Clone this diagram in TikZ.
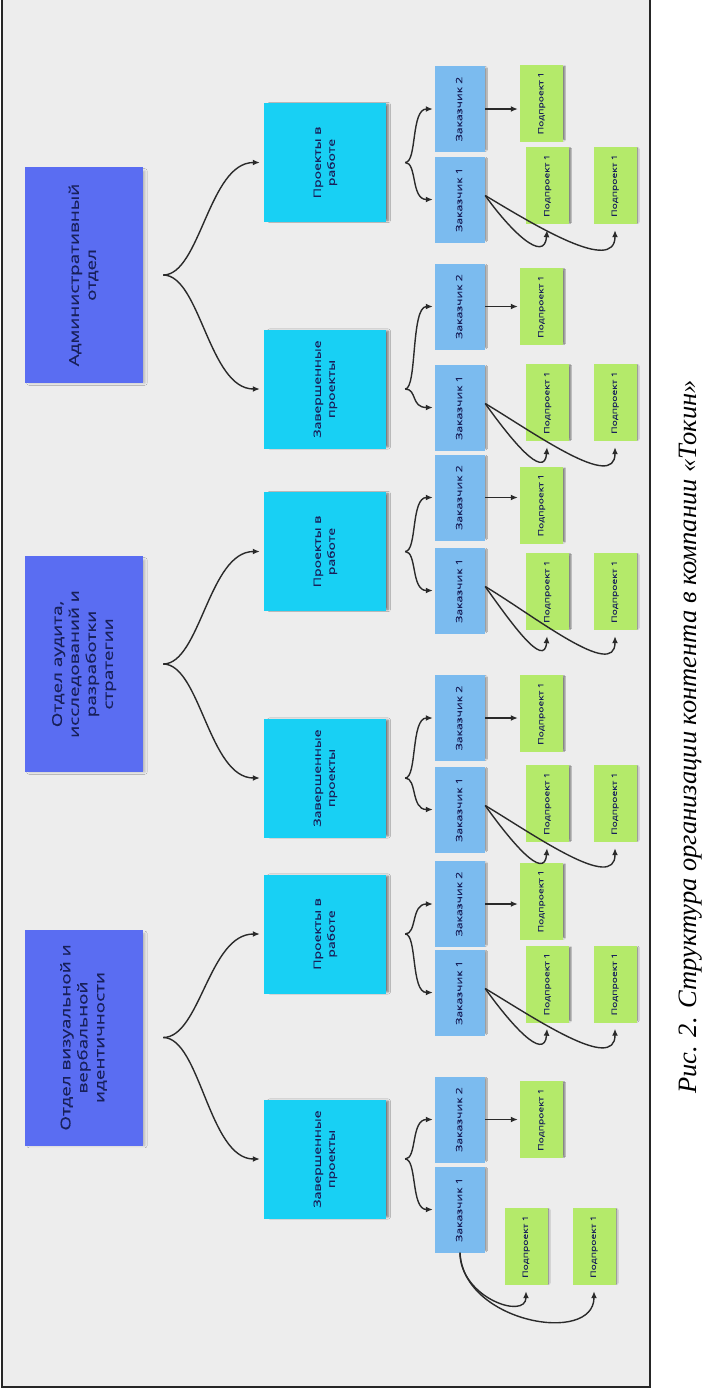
\documentclass[tikz,border=0pt]{standalone}
\usepackage{fontspec}
\usepackage{graphicx}
\usetikzlibrary{arrows.meta,shadows.blur}
\newfontfamily\boxfont[FakeStretch=1.4,FakeBold=0.35]{Open Sans}
\newfontfamily\capfont{Liberation Serif}
\definecolor{bgc}{HTML}{EDEDED}
\definecolor{deptc}{HTML}{5A6DF2}
\definecolor{projc}{HTML}{18D0F4}
\definecolor{custc}{HTML}{7BBBEF}
\definecolor{subc}{HTML}{B4EA6A}
\definecolor{txtc}{HTML}{18205A}
\definecolor{linec}{HTML}{2A2A2A}
\newcommand{\rt}[1]{\rotatebox{90}{\begin{tabular}{@{}c@{}}#1\end{tabular}}}
\tikzset{
  x=1pt, y=-1pt,
  boxbase/.style={draw=none, inner sep=0pt, text=txtc},
  dept/.style={boxbase, fill=deptc, minimum width=118pt, minimum height=216pt,
    font=\boxfont\fontsize{13.5}{17}\selectfont,
    blur shadow={shadow xshift=3pt, shadow yshift=-2pt, shadow blur radius=2.5pt, shadow scale=0.98, shadow opacity=25}},
  proj/.style={boxbase, fill=projc, minimum width=122pt, minimum height=119pt,
    font=\boxfont\fontsize{10}{14}\selectfont,
    blur shadow={shadow xshift=4pt, shadow yshift=0pt, shadow blur radius=2.5pt, shadow scale=0.97, shadow opacity=55}},
  cust/.style={boxbase, fill=custc, minimum width=50pt, minimum height=86pt,
    font=\boxfont\fontsize{8.7}{11}\selectfont,
    blur shadow={shadow xshift=2.5pt, shadow yshift=0pt, shadow blur radius=1.5pt, shadow scale=0.95, shadow opacity=45}},
  sub/.style={boxbase, fill=subc, minimum width=43pt, minimum height=77pt,
    font=\boxfont\fontsize{7.3}{9}\selectfont,
    blur shadow={shadow xshift=2.5pt, shadow yshift=0pt, shadow blur radius=1.5pt, shadow scale=0.95, shadow opacity=55}},
  conn/.style={draw=linec, line width=1.4pt, -{Latex[length=7pt,width=6pt]}},
  brace1/.style={conn, shorten >=4pt},
  brace2/.style={conn, shorten >=2pt},
  straight/.style={conn, shorten >=2pt},
  hook/.style={conn, shorten >=6pt},
}
\begin{document}
\begin{tikzpicture}
\useasboundingbox (0,0) rectangle (709,1390);
\fill[white] (0,0) rectangle (709,1390);
\fill[bgc] (2,0) rectangle (650,1387);
\draw[line width=1.5pt, black!85] (2,0) -- (2,1387) -- (650,1387) -- (650,0);

% departments
\node[dept] (d1) at (84,275) {\rt{Административный\\отдел}};
\node[dept] (d2) at (84,664) {\rt{Отдел аудита,\\исследований и\\разработки\\стратегии}};
\node[dept] (d3) at (84,1037.5) {\rt{Отдел визуальной и\\вербальной\\идентичности}};

% project boxes
\node[proj] (p1) at (325,162.5) {\rt{Проекты в\\работе}};
\node[proj] (p2) at (325,389) {\rt{Завершенные\\проекты}};
\node[proj] (p3) at (325,551.5) {\rt{Проекты в\\работе}};
\node[proj] (p4) at (325,778) {\rt{Завершенные\\проекты}};
\node[proj] (p5) at (325,934) {\rt{Проекты в\\работе}};
\node[proj] (p6) at (325,1159) {\rt{Завершенные\\проекты}};

% customers
\node[cust] (z1b) at (460,109) {\rt{Заказчик 2}};
\node[cust] (z1a) at (460,199.5) {\rt{Заказчик 1}};
\node[cust] (z2b) at (460,306.5) {\rt{Заказчик 2}};
\node[cust] (z2a) at (460,407.5) {\rt{Заказчик 1}};
\node[cust] (z3b) at (460,497.5) {\rt{Заказчик 2}};
\node[cust] (z3a) at (460,590.5) {\rt{Заказчик 1}};
\node[cust] (z4b) at (460,718) {\rt{Заказчик 2}};
\node[cust] (z4a) at (460,809.5) {\rt{Заказчик 1}};
\node[cust] (z5b) at (460,904) {\rt{Заказчик 2}};
\node[cust] (z5a) at (460,992.5) {\rt{Заказчик 1}};
\node[cust] (z6b) at (460,1119.5) {\rt{Заказчик 2}};
\node[cust] (z6a) at (460,1209.5) {\rt{Заказчик 1}};

% subprojects
\node[sub] (s1t) at (541.5,103) {\rt{Подпроект 1}};
\node[sub] (s1n) at (547.5,185.5) {\rt{Подпроект 1}};
\node[sub] (s1f) at (615,185.5) {\rt{Подпроект 1}};
\node[sub] (s2t) at (541.5,306.5) {\rt{Подпроект 1}};
\node[sub] (s2n) at (547.5,402.5) {\rt{Подпроект 1}};
\node[sub] (s2f) at (615,402.5) {\rt{Подпроект 1}};
\node[sub] (s3t) at (541.5,505) {\rt{Подпроект 1}};
\node[sub] (s3n) at (547.5,591.5) {\rt{Подпроект 1}};
\node[sub] (s3f) at (615,591.5) {\rt{Подпроект 1}};
\node[sub] (s4t) at (541.5,713.5) {\rt{Подпроект 1}};
\node[sub] (s4n) at (547.5,803.5) {\rt{Подпроект 1}};
\node[sub] (s4f) at (615,803.5) {\rt{Подпроект 1}};
\node[sub] (s5t) at (541.5,901) {\rt{Подпроект 1}};
\node[sub] (s5n) at (547.5,984) {\rt{Подпроект 1}};
\node[sub] (s5f) at (615,984) {\rt{Подпроект 1}};
\node[sub] (s6t) at (541.5,1119.5) {\rt{Подпроект 1}};
\node[sub] (s6n) at (526,1246.5) {\rt{Подпроект 1}};
\node[sub] (s6f) at (594,1246.5) {\rt{Подпроект 1}};

% department -> project braces
\draw[brace1] ([xshift=20pt]d1.east) .. controls +(37,0) and +(-55,0) .. (p1.west);
\draw[brace1] ([xshift=20pt]d1.east) .. controls +(37,0) and +(-55,0) .. (p2.west);
\draw[brace1] ([xshift=20pt]d2.east) .. controls +(37,0) and +(-55,0) .. (p3.west);
\draw[brace1] ([xshift=20pt]d2.east) .. controls +(37,0) and +(-55,0) .. (p4.west);
\draw[brace1] ([xshift=20pt]d3.east) .. controls +(37,0) and +(-55,0) .. (p5.west);
\draw[brace1] ([xshift=20pt]d3.east) .. controls +(37,0) and +(-55,0) .. (p6.west);

% project -> customer braces
\foreach \i in {1,...,6}{
  \draw[brace2] ([xshift=19pt]p\i.east) .. controls +(12,0) and +(-24,0) .. (z\i b.west);
  \draw[brace2] ([xshift=19pt]p\i.east) .. controls +(12,0) and +(-24,0) .. (z\i a.west);
  \draw[straight] (z\i b.east) -- (z\i b.east -| s\i t.west);
}

% customer 1 -> subprojects
\foreach \i in {1,...,5}{
  \draw[hook] ([yshift=4pt]z\i a.east) .. controls +(25,35) and +(-3,40) .. (s\i n.south);
  \draw[hook] ([yshift=4pt]z\i a.east) .. controls +(50,30) and +(0,50) .. (s\i f.south);
}
\draw[hook] (z6a.south) .. controls +(0,45) and +(0,35) .. (s6n.south);
\draw[hook] (z6a.south) .. controls +(3,70) and +(0,60) .. (s6f.south);

% caption
\node[rotate=90, font=\capfont\itshape\fontsize{26.5}{28}\selectfont] (cap) at (691,737) {Рис. 2. Структура организации контента в компании «Токин»};
\end{tikzpicture}
\end{document}
